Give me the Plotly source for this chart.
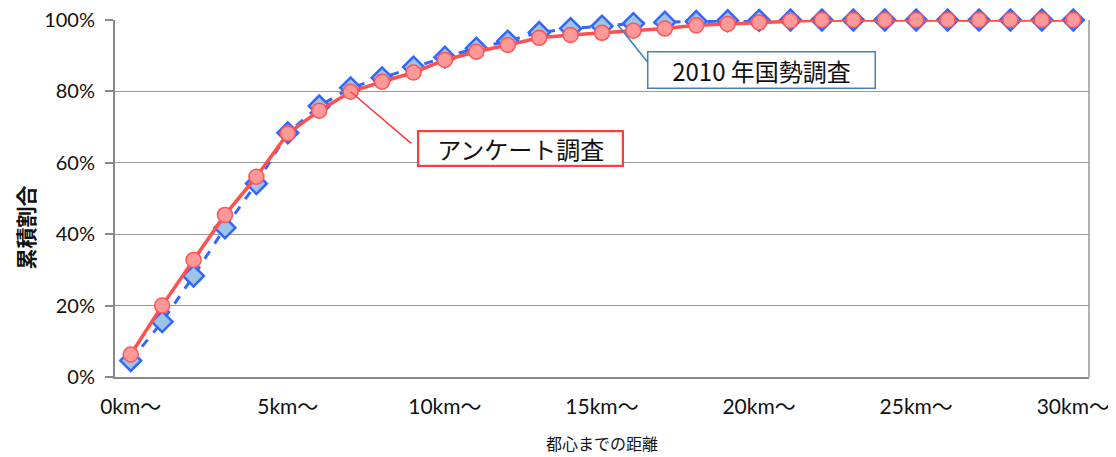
import plotly.graph_objects as go

distance_km = list(range(31))
tick_vals = [0, 5, 10, 15, 20, 25, 30]
tick_text = ["0km〜", "5km〜", "10km〜", "15km〜", "20km〜", "25km〜", "30km〜"]

census_2010 = [4.6, 15.5, 28.3, 41.8, 54.2, 68.4, 75.9, 81.0, 83.8, 86.8, 89.6,
               92.1, 94.1, 96.5, 97.6, 98.3, 99.0, 99.4, 99.6, 99.8, 99.9,
               100, 100, 100, 100, 100, 100, 100, 100, 100, 100]
survey = [6.3, 20.0, 32.8, 45.4, 56.1, 68.2, 74.6, 79.9, 82.7, 85.3, 88.8,
          91.1, 93.0, 95.0, 95.8, 96.4, 97.0, 97.6, 98.5, 98.9, 99.3,
          99.8, 100, 100, 100, 100, 100, 100, 100, 100, 100]

name_census = "2010 年国勢調査"
name_survey = "アンケート調査"
x_title = "都心までの距離"
y_title = "累積割合"

JP = "Noto Sans CJK JP"
NUM = "Lato, Noto Sans CJK JP"

fig = go.Figure()
fig.add_trace(go.Scatter(
    x=distance_km, y=census_2010, name=name_census, mode="lines+markers",
    line=dict(color="#3366FF", width=3, dash="dash"),
    marker=dict(symbol="diamond", size=16, color="#9DC3E6",
                line=dict(color="#3366FF", width=2.5)),
    cliponaxis=False,
))
fig.add_trace(go.Scatter(
    x=distance_km, y=survey, name=name_survey, mode="lines+markers",
    line=dict(color="#FF5050", width=3.5),
    marker=dict(symbol="circle", size=15, color="#FF9999",
                line=dict(color="#FF5555", width=1.5)),
    cliponaxis=False,
))

# leader lines
fig.add_annotation(x=7, y=survey[7], xref="x", yref="y", text="",
                   showarrow=True, arrowhead=0, arrowwidth=1.6, arrowcolor="#FF3B3B",
                   ax=62, ay=53, standoff=0)
fig.add_annotation(x=15.5, y=(census_2010[15] + census_2010[16]) / 2, xref="x", yref="y",
                   text="", showarrow=True, arrowhead=0, arrowwidth=1.6,
                   arrowcolor="#3A85BD", ax=32, ay=40, standoff=0)
# label boxes
fig.add_annotation(x=12.42, y=64.1, xref="x", yref="y", text=name_survey,
                   showarrow=False, font=dict(family=JP, size=24, color="#111111"),
                   bgcolor="white", bordercolor="#FF3B3B", borderwidth=2.2,
                   width=203, height=33, borderpad=0)
fig.add_annotation(x=20.09, y=86.1, xref="x", yref="y", text=name_census,
                   showarrow=False, font=dict(family=JP, size=24, color="#111111"),
                   bgcolor="white", bordercolor="#4A7EBB", borderwidth=1.5,
                   width=226, height=35, borderpad=0)
# axis titles
fig.add_annotation(x=0.5, y=0, xref="paper", yref="paper", text=x_title,
                   showarrow=False, xanchor="center", yanchor="middle", yshift=-66,
                   font=dict(family=JP, size=16, color="#111111"))
fig.add_annotation(x=0, y=0.5, xref="paper", yref="paper", text="<b>" + y_title + "</b>",
                   showarrow=False, xanchor="center", yanchor="middle", textangle=-90,
                   xshift=-91, yshift=-29,
                   font=dict(family=JP, size=21, color="#111111"))

fig.update_layout(
    width=1108, height=449,
    margin=dict(l=107, r=27, t=12, b=80, autoexpand=False),
    paper_bgcolor="white", plot_bgcolor="white",
    showlegend=False,
    xaxis=dict(range=[-0.5, 30.5], tickvals=tick_vals, ticktext=tick_text,
               automargin=False,
               showgrid=False, zeroline=False, showline=True, linecolor="#888888",
               linewidth=2, mirror=False, ticks="", ticklabelstandoff=10,
               ticklabeloverflow="allow",
               tickfont=dict(family=NUM, size=21, color="#111111")),
    yaxis=dict(range=[0, 100], tickvals=[0, 20, 40, 60, 80, 100],
               ticktext=["0%", "20%", "40%", "60%", "80%", "100%"],
               automargin=False,
               showgrid=True, gridcolor="#999999", gridwidth=1.3,
               zeroline=False, showline=True, linecolor="#888888", linewidth=2,
               ticks="outside", ticklen=8, tickcolor="#888888", tickwidth=1.5,
               ticklabelstandoff=6, ticklabeloverflow="allow",
               tickfont=dict(family=NUM, size=20, color="#111111")),
)
# right border of plot area
fig.add_shape(type="line", xref="paper", yref="paper", x0=1, x1=1, y0=0, y1=1,
              line=dict(color="#999999", width=1.5), layer="below")

fig.write_html("out.html")
